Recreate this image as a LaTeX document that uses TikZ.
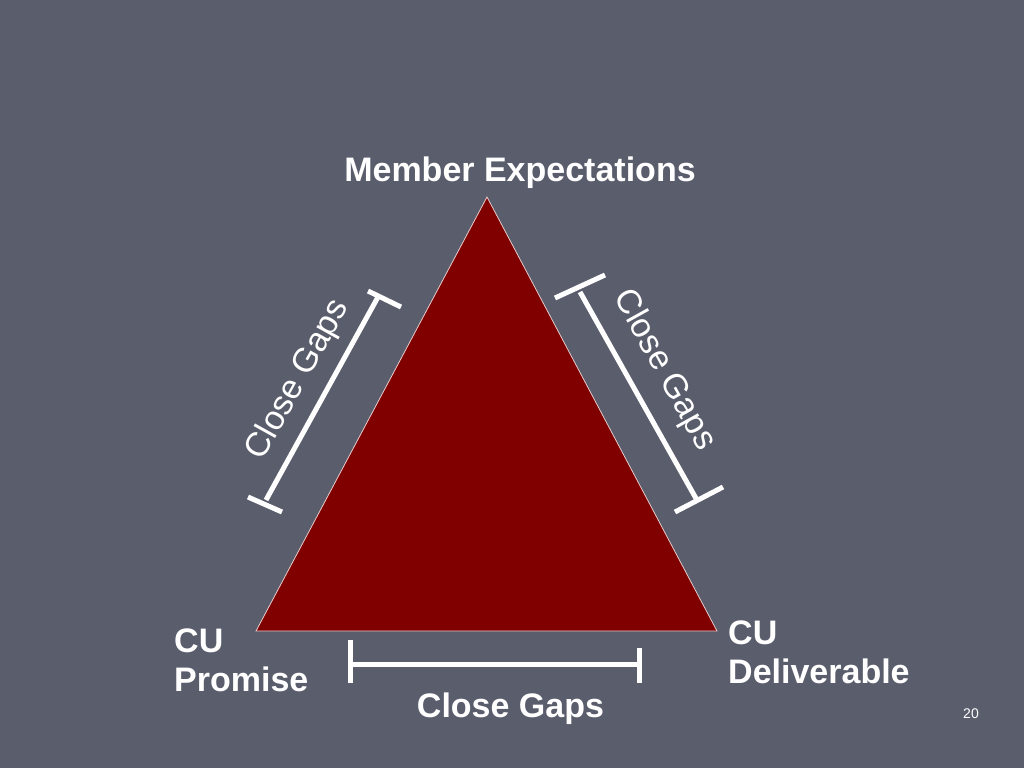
\documentclass[tikz,border=0pt]{standalone}
\usepackage{fontspec}
\setmainfont{Liberation Sans}
\begin{document}
\begin{tikzpicture}[x=1pt,y=-1pt,
  label/.style={text=white,font=\fontsize{34}{39}\selectfont\bfseries,inner sep=0pt},
  gaplabel/.style={text=white,font=\fontsize{34}{39}\selectfont,inner sep=0pt},
  bracket/.style={draw=white,line width=5pt},
  tri/.style={fill=maroon,draw=white!80!maroon,line width=0.8pt}]
\definecolor{bgcol}{RGB}{90,93,108}
\definecolor{maroon}{RGB}{128,0,0}
\fill[bgcol] (0,0) rectangle (1024,768);
\useasboundingbox (0,0) rectangle (1024,768);
% triangle
\coordinate (apex) at (487,197);
\coordinate (bl) at (256,631);
\coordinate (br) at (717,631);
\draw[tri] (apex) -- (bl) -- (br) -- cycle;
% left bracket
\coordinate (l1) at (266,500);
\coordinate (l2) at (378,297);
\coordinate (lt1) at (368,291);
\coordinate (lt2) at (401,307);
\coordinate (lb1) at (248,497);
\coordinate (lb2) at (282,512);
\draw[bracket] (l1) -- (l2);
\draw[bracket] (lt1) -- (lt2);
\draw[bracket] (lb1) -- (lb2);
% right bracket
\coordinate (r1) at (580,292);
\coordinate (r2) at (698,502);
\coordinate (rt1) at (555,298);
\coordinate (rt2) at (605,275);
\coordinate (rb1) at (675,512);
\coordinate (rb2) at (723,487);
\draw[bracket] (r1) -- (r2);
\draw[bracket] (rt1) -- (rt2);
\draw[bracket] (rb1) -- (rb2);
% bottom bracket
\coordinate (b1) at (350,664);
\coordinate (b2) at (639,664);
\coordinate (bt1) at (350,640);
\coordinate (bt2) at (350,683);
\coordinate (bu1) at (639,648);
\coordinate (bu2) at (639,683);
\draw[bracket] (b1) -- (b2);
\draw[bracket] (bt1) -- (bt2);
\draw[bracket] (bu1) -- (bu2);
% labels
\node[label,anchor=base] (me) at (520,181) {Member Expectations};
\node[label,anchor=north west,align=left] (cup) at (174,629) {CU\\Promise};
\node[label,anchor=north west,align=left] (cud) at (728,621) {CU\\Deliverable};
\node[label,anchor=base] (cgb) at (510.5,717) {Close Gaps};
\node[gaplabel,rotate=61] (cgl) at (298,380) {Close Gaps};
\node[gaplabel,rotate=-61] (cgr) at (664,370) {Close Gaps};
\node[text=white,font=\fontsize{14}{16}\selectfont,inner sep=0pt,anchor=base] (pg) at (971,718) {20};
\end{tikzpicture}
\end{document}
